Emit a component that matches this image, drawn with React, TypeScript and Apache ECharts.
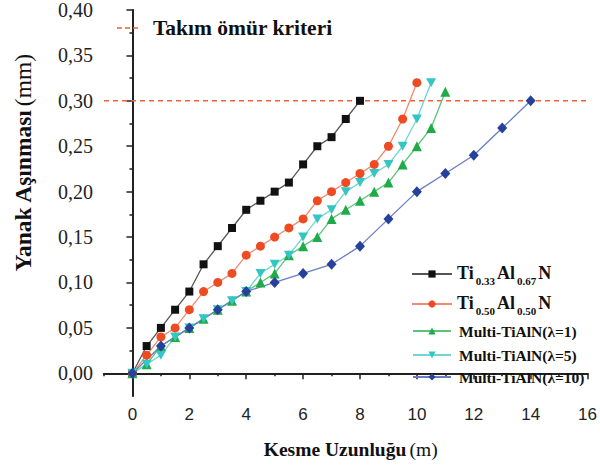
import React, { useEffect, useRef } from 'react';
import * as echarts from 'echarts';

// ---- data ----
const xHalf = [0, 0.5, 1, 1.5, 2, 2.5, 3, 3.5, 4, 4.5, 5, 5.5, 6, 6.5, 7, 7.5, 8, 8.5, 9, 9.5, 10, 10.5, 11];
const xWhole = [0, 1, 2, 3, 4, 5, 6, 7, 8, 9, 10, 11, 12, 13, 14];

const yTi33 = [0, 0.03, 0.05, 0.07, 0.09, 0.12, 0.14, 0.16, 0.18, 0.19, 0.20, 0.21, 0.23, 0.25, 0.26, 0.28, 0.30];
const yTi50 = [0, 0.02, 0.04, 0.05, 0.07, 0.09, 0.10, 0.11, 0.13, 0.14, 0.15, 0.16, 0.17, 0.19, 0.20, 0.21, 0.22, 0.23, 0.25, 0.28, 0.32];
const yL1 = [0, 0.01, 0.03, 0.04, 0.05, 0.06, 0.07, 0.08, 0.09, 0.10, 0.11, 0.13, 0.14, 0.15, 0.17, 0.18, 0.19, 0.20, 0.21, 0.23, 0.25, 0.27, 0.31];
const yL5 = [0, 0.01, 0.02, 0.04, 0.05, 0.06, 0.07, 0.08, 0.09, 0.11, 0.12, 0.13, 0.15, 0.17, 0.18, 0.20, 0.21, 0.22, 0.23, 0.25, 0.28, 0.32];
const yL10 = [0, 0.03, 0.05, 0.07, 0.09, 0.10, 0.11, 0.12, 0.14, 0.17, 0.20, 0.22, 0.24, 0.27, 0.30];

const criterionValue = 0.30;
const criterionX = [-1, 16];

const xTicks = [0, 2, 4, 6, 8, 10, 12, 14, 16];
const xMinorTicks = [-1, 1, 3, 5, 7, 9, 11, 13, 15];
const yTicks = [0, 0.05, 0.10, 0.15, 0.20, 0.25, 0.30, 0.35, 0.40];
const yMinorTicks = [0.025, 0.075, 0.125, 0.175, 0.225, 0.275, 0.325, 0.375];

const names = [
  'Takım ömür kriteri',
  'Ti0.33Al0.67N',
  'Ti0.50Al0.50N',
  'Multi-TiAlN(λ=1)',
  'Multi-TiAlN(λ=5)',
  'Multi-TiAlN(λ=10)',
];

const pair = (xs: number[], ys: number[]) => ys.map((y, i) => [xs[i], y]);

const SERIF = 'Liberation Serif';
const SANS = 'Liberation Sans';

export default function App() {
  const ref = useRef<HTMLDivElement>(null);
  useEffect(() => {
    if (!ref.current) return;
    const chart = echarts.init(ref.current, null, { renderer: 'svg' });

    const tiRich = {
      m: { fontFamily: SERIF, fontWeight: 'bold', fontSize: 18, color: '#111', lineHeight: 20, verticalAlign: 'top' },
      s: { fontFamily: SERIF, fontWeight: 'bold', fontSize: 11, color: '#111', lineHeight: 11, verticalAlign: 'top', padding: [11, 2, 0, 2] },
    };
    const multiText = { fontFamily: SERIF, fontWeight: 'bold', fontSize: 15.5, color: '#111' };

    const lineSeries = (name: string, data: number[][], symbol: string, size: any, mColor: string, lColor: string) => ({
      name,
      type: 'line',
      data,
      symbol,
      symbolSize: size,
      clip: false,
      itemStyle: { color: mColor },
      lineStyle: { color: lColor, width: 1.3 },
      emphasis: { disabled: true },
    });

    const frameAxis = { show: true, lineStyle: { color: '#222', width: 1.5 } };

    const option: any = {
      animation: false,
      grid: { left: 104, right: 9, top: 10, bottom: 74 },
      xAxis: [
        {
          type: 'value',
          min: -1,
          max: 16,
          axisLine: { show: true, lineStyle: { color: '#222', width: 2 } },
          axisTick: { show: true, customValues: xTicks, length: 6, lineStyle: { color: '#222', width: 1.5 } },
          axisLabel: { customValues: xTicks, fontFamily: SANS, fontSize: 17, color: '#222', margin: 10 },
          splitLine: { show: false },
          name: '{b|Kesme Uzunluğu} {n|(m)}',
          nameLocation: 'middle',
          nameGap: 43,
          nameTextStyle: {
            padding: [0, 0, 0, 10],
            rich: {
              b: { fontFamily: SERIF, fontWeight: 'bold', fontSize: 19.5, color: '#111' },
              n: { fontFamily: SERIF, fontSize: 19.5, color: '#111' },
            },
          },
        },
        {
          type: 'value',
          min: -1,
          max: 16,
          position: 'bottom',
          axisLine: { show: false },
          axisTick: { show: true, customValues: xMinorTicks, length: 3, lineStyle: { color: '#222', width: 1.5 } },
          axisLabel: { show: false },
          splitLine: { show: false },
        },
        {
          type: 'value',
          min: -1,
          max: 16,
          position: 'top',
          axisLine: frameAxis,
          axisTick: { show: false },
          axisLabel: { show: false },
          splitLine: { show: false },
        },
      ],
      yAxis: [
        {
          type: 'value',
          min: -0.025,
          max: 0.4,
          axisLine: { show: true, lineStyle: { color: '#222', width: 2 } },
          axisTick: { show: true, customValues: yTicks, length: 6, lineStyle: { color: '#222', width: 1.5 } },
          axisLabel: {
            customValues: yTicks,
            fontFamily: SERIF,
            fontSize: 20,
            color: '#222',
            margin: 11,
            formatter: (v: number) => v.toFixed(2).replace('.', ','),
          },
          splitLine: { show: false },
          name: '{b|Yanak Aşınması} {n|(mm)}',
          nameLocation: 'middle',
          nameGap: 69,
          nameTextStyle: {
            padding: [0, 0, 0, 80],
            rich: {
              b: { fontFamily: SERIF, fontWeight: 'bold', fontSize: 23.5, color: '#111' },
              n: { fontFamily: SERIF, fontSize: 23.5, color: '#111' },
            },
          },
        },
        {
          type: 'value',
          min: -0.025,
          max: 0.4,
          position: 'left',
          axisLine: { show: false },
          axisTick: { show: true, customValues: yMinorTicks, length: 3, lineStyle: { color: '#222', width: 1.5 } },
          axisLabel: { show: false },
          splitLine: { show: false },
        },
        {
          type: 'value',
          min: -0.025,
          max: 0.4,
          position: 'right',
          axisLine: frameAxis,
          axisTick: { show: false },
          axisLabel: { show: false },
          splitLine: { show: false },
        },
      ],
      legend: [
        {
          data: [names[0]],
          left: 117,
          top: 17,
          padding: 0,
          itemWidth: 21,
          itemHeight: 2,
          icon: 'path://M0,0h5v1.5h-5zM8,0h5v1.5h-5zM16,0h5v1.5h-5z',
          selectedMode: false,
          textStyle: { fontFamily: SERIF, fontWeight: 'bold', fontSize: 21.5, color: '#111', padding: [0, 0, 0, 10] },
        },
        {
          data: [names[1]],
          left: 411,
          top: 264,
          padding: 0,
          itemWidth: 40,
          itemHeight: 9,
          selectedMode: false,
          formatter: '{m|Ti}{s|0.33}{m|Al}{s|0.67}{m|N}',
          textStyle: { rich: tiRich },
        },
        {
          data: [names[2]],
          left: 411,
          top: 294,
          padding: 0,
          itemWidth: 40,
          itemHeight: 9,
          selectedMode: false,
          formatter: '{m|Ti}{s|0.50}{m|Al}{s|0.50}{m|N}',
          textStyle: { rich: tiRich },
        },
        {
          data: [names[3]],
          left: 412,
          top: 323,
          padding: 0,
          itemWidth: 38,
          itemHeight: 9,
          selectedMode: false,
          textStyle: { ...multiText, padding: [0, 0, 0, 3] },
        },
        {
          data: [names[4]],
          left: 412,
          top: 347,
          padding: 0,
          itemWidth: 38,
          itemHeight: 9,
          selectedMode: false,
          textStyle: { ...multiText, padding: [0, 0, 0, 3] },
        },
        {
          data: [names[5]],
          left: 412,
          top: 369,
          padding: 0,
          itemWidth: 38,
          itemHeight: 9,
          selectedMode: false,
          textStyle: { ...multiText, padding: [0, 0, 0, 3] },
        },
      ],
      series: [
        {
          name: names[0],
          type: 'line',
          data: criterionX.map((x) => [x, criterionValue]),
          symbol: 'none',
          clip: false,
          itemStyle: { color: '#f0603a' },
          lineStyle: { color: '#f0603a', width: 1.6, type: [5, 4] },
          emphasis: { disabled: true },
          z: 1,
        },
        lineSeries(names[1], pair(xHalf, yTi33), 'rect', 8, '#111111', '#555555'),
        lineSeries(names[2], pair(xHalf, yTi50), 'circle', 9, '#ee4b22', '#f08a70'),
        lineSeries(names[3], pair(xHalf, yL1), 'triangle', 10, '#1fab48', '#5ec27a'),
        lineSeries(names[4], pair(xHalf, yL5), 'path://M0,0L2,0L1,1.732Z', [10, 9], '#33c6c2', '#6fd6d2'),
        lineSeries(names[5], pair(xWhole, yL10), 'diamond', [10, 11], '#27409a', '#6a7cc4'),
      ],
    };

    chart.setOption(option);
    return () => chart.dispose();
  }, []);

  return <div ref={ref} style={{ width: 600, height: 470, position: 'absolute', left: 0, top: 0 }} />;
}
